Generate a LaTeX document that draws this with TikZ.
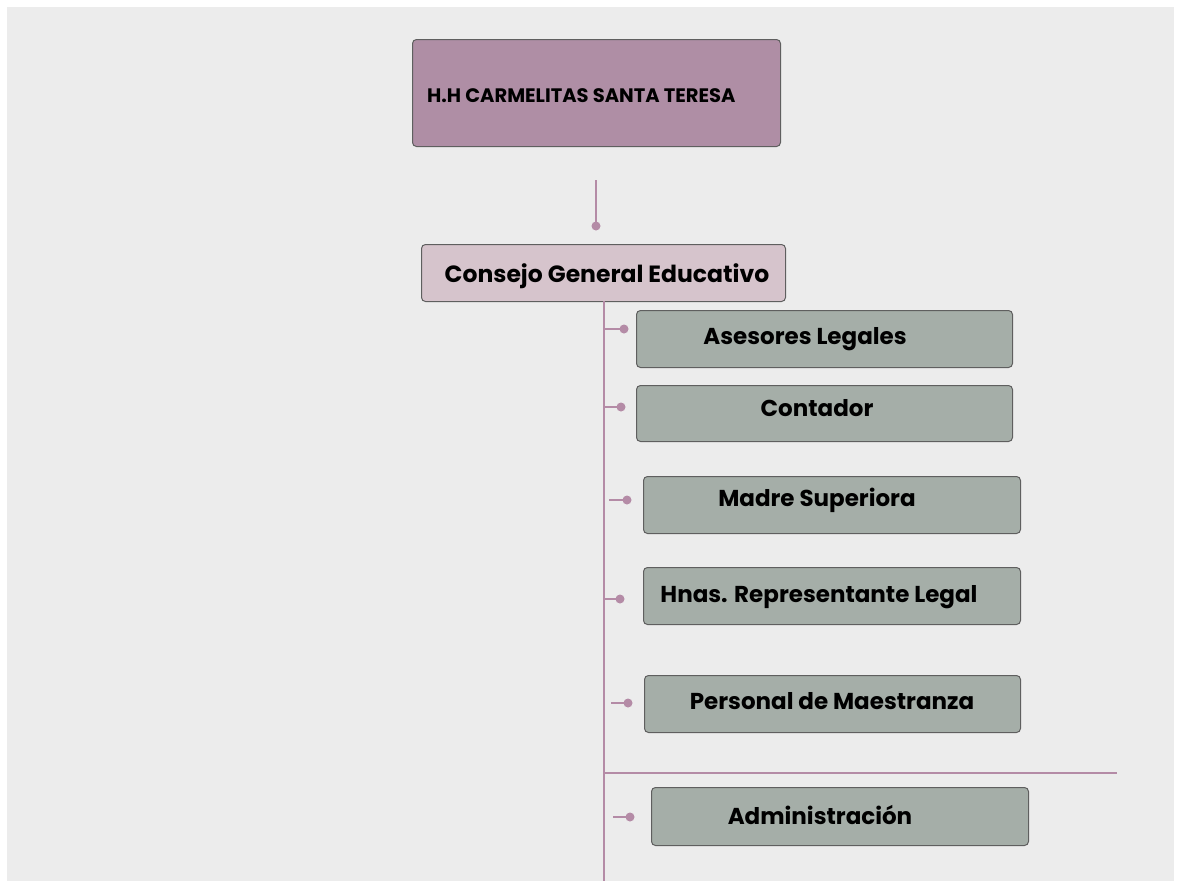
\documentclass[tikz,border=0pt]{standalone}
\usepackage{fontspec}
\setmainfont{Poppins}
\definecolor{bgpaper}{RGB}{236,236,236}
\definecolor{topfill}{RGB}{175,142,165}
\definecolor{midfill}{RGB}{214,196,204}
\definecolor{grayfill}{RGB}{165,174,168}
\definecolor{linemauve}{RGB}{180,139,166}
\definecolor{boxedge}{RGB}{95,95,95}
\begin{document}
\begin{tikzpicture}[x=1pt,y=-1pt,
  boxbase/.style={draw=boxedge,line width=1pt,rounded corners=4pt,inner sep=0pt,anchor=north west},
  topbox/.style={boxbase,fill=topfill},
  midbox/.style={boxbase,fill=midfill},
  graybox/.style={boxbase,fill=grayfill},
  lbl/.style={font=\fontsize{23}{26}\selectfont\bfseries,text=black,inner sep=0pt},
  toplbl/.style={font=\fontsize{19.5}{22}\selectfont\bfseries,text=black,inner sep=0pt,anchor=west},
  conn/.style={draw=linemauve,line width=2.5pt},
  dot/.style={circle,fill=linemauve,inner sep=0pt,minimum size=9pt}]
\useasboundingbox (0,0) rectangle (1179,881);
\fill[white] (0,0) rectangle (1179,881);
\fill[bgpaper] (7,7) rectangle (1174,881);

% boxes
\node[topbox,minimum width=368pt,minimum height=107pt] (top) at (412,39) {};
\node[toplbl] (toptxt) at (427,96) {H.H CARMELITAS SANTA TERESA};

\node[midbox,minimum width=364pt,minimum height=57pt] (cge) at (421,244) {};
\node[lbl,font=\fontsize{23.5}{26}\selectfont\bfseries] (cgetxt) at (607,276) {Consejo General Educativo};

\node[graybox,minimum width=376pt,minimum height=57pt] (ase) at (636,310) {};
\node[lbl] (asetxt) at (805,339) {Asesores Legales};

\node[graybox,minimum width=376pt,minimum height=56pt] (con) at (636,385) {};
\node[lbl] (contxt) at (817,408) {Contador};

\node[graybox,minimum width=377pt,minimum height=57pt] (mad) at (643,476) {};
\node[lbl] (madtxt) at (817,500) {Madre Superiora};

\node[graybox,minimum width=377pt,minimum height=57pt] (hna) at (643,567) {};
\node[lbl] (hnatxt) at (819,597) {Hnas. Representante Legal};

\node[graybox,minimum width=376pt,minimum height=57pt] (per) at (644,675) {};
\node[lbl] (pertxt) at (832,701) {Personal de Maestranza};

\node[graybox,minimum width=377pt,minimum height=58pt] (adm) at (651,787) {};
\node[lbl] (admtxt) at (820,815) {Administración};

% top connector
\coordinate (tcA) at (596,180);
\node[dot] (tcdot) at (596,226) {};
\draw[conn] (tcA) -- (tcdot.center);

% trunk
\coordinate (trunkTop) at (604,301);
\coordinate (trunkBot) at (604,881);
\draw[conn] (trunkTop) -- (trunkBot);

% horizontal rule
\coordinate (hrA) at (604,773);
\coordinate (hrB) at (1117,773);
\draw[conn] (hrA) -- (hrB);

% stubs and dots
\node[dot] (d1) at (624,329) {};
\coordinate (s1) at (604,329);
\draw[conn] (s1) -- (d1.center);

\node[dot] (d2) at (621,407) {};
\coordinate (s2) at (604,407);
\draw[conn] (s2) -- (d2.center);

\node[dot] (d3) at (627,500) {};
\coordinate (s3) at (609,500);
\draw[conn] (s3) -- (d3.center);

\node[dot] (d4) at (620,599) {};
\coordinate (s4) at (604,599);
\draw[conn] (s4) -- (d4.center);

\node[dot] (d5) at (628,703) {};
\coordinate (s5) at (611,703);
\draw[conn] (s5) -- (d5.center);

\node[dot] (d6) at (630,817) {};
\coordinate (s6) at (613,817);
\draw[conn] (s6) -- (d6.center);
\end{tikzpicture}
\end{document}
